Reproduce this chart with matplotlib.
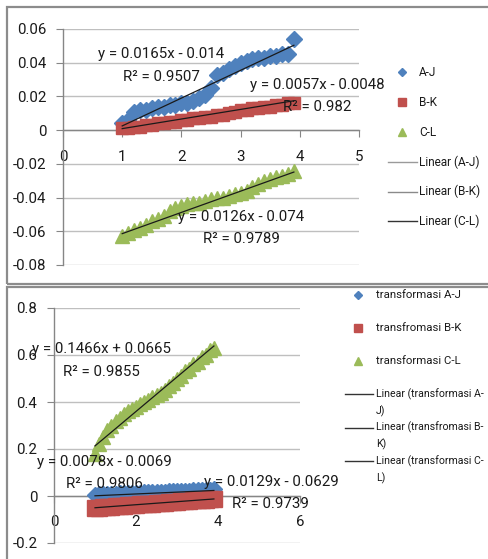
import matplotlib
matplotlib.use("Agg")
import matplotlib.pyplot as plt
from matplotlib.lines import Line2D
from matplotlib.patches import Rectangle

plt.rcParams["font.family"] = ["Roboto", "DejaVu Sans"]
plt.rcParams["font.size"] = 10.8

# ---- data ----
x_vals = [1.0, 1.1, 1.2, 1.3, 1.4, 1.5, 1.6, 1.7, 1.8, 1.9,
          2.0, 2.1, 2.2, 2.3, 2.4, 2.5, 2.6, 2.7, 2.8, 2.9,
          3.0, 3.1, 3.2, 3.3, 3.4, 3.5, 3.6, 3.7, 3.8, 3.9]

aj = [0.004, 0.006, 0.011, 0.012, 0.012, 0.013, 0.014, 0.014, 0.015, 0.015,
      0.016, 0.016, 0.017, 0.019, 0.021, 0.025, 0.033, 0.034, 0.036, 0.038,
      0.040, 0.041, 0.042, 0.043, 0.043, 0.044, 0.044, 0.045, 0.045, 0.054]
bk = [0.001, 0.001, 0.002, 0.002, 0.003, 0.003, 0.004, 0.004, 0.005, 0.005,
      0.006, 0.006, 0.007, 0.007, 0.008, 0.008, 0.009, 0.009, 0.010, 0.011,
      0.012, 0.012, 0.013, 0.013, 0.014, 0.014, 0.015, 0.015, 0.016, 0.016]
cl = [-0.063, -0.061, -0.059, -0.058, -0.056, -0.054, -0.053, -0.051, -0.048, -0.046,
      -0.045, -0.044, -0.043, -0.043, -0.042, -0.041, -0.040, -0.040, -0.039, -0.038,
      -0.037, -0.036, -0.034, -0.032, -0.030, -0.029, -0.028, -0.027, -0.026, -0.024]

t_aj = [0.006, 0.007, 0.008, 0.009, 0.009, 0.010, 0.011, 0.012, 0.012, 0.013,
        0.014, 0.014, 0.015, 0.016, 0.016, 0.017, 0.018, 0.019, 0.020, 0.020,
        0.021, 0.022, 0.023, 0.023, 0.024, 0.025, 0.026, 0.026, 0.027, 0.030]
t_bk = [-0.050, -0.049, -0.047, -0.046, -0.045, -0.043, -0.042, -0.041, -0.040, -0.038,
        -0.037, -0.036, -0.034, -0.033, -0.032, -0.031, -0.029, -0.028, -0.027, -0.025,
        -0.024, -0.023, -0.021, -0.020, -0.019, -0.018, -0.016, -0.015, -0.014, -0.012]
t_cl = [0.18, 0.22, 0.25, 0.28, 0.30, 0.32, 0.33, 0.35, 0.36, 0.37,
        0.38, 0.39, 0.40, 0.41, 0.42, 0.43, 0.44, 0.45, 0.47, 0.48,
        0.50, 0.51, 0.53, 0.54, 0.56, 0.57, 0.59, 0.60, 0.62, 0.63]

# trendline coefficients (slope, intercept, R²)
fit_top = {"A-J": (0.0165, -0.014, 0.9507),
           "B-K": (0.0057, -0.0048, 0.982),
           "C-L": (0.0126, -0.074, 0.9789)}
fit_bot = {"transformasi A-J": (0.0078, -0.0069, 0.9806),
           "transfromasi B-K": (0.0129, -0.0629, 0.9739),
           "transformasi C-L": (0.1466, 0.0665, 0.9855)}

top_yticks = [0.06, 0.04, 0.02, 0, -0.02, -0.04, -0.06, -0.08]
top_xticks = [0, 1, 2, 3, 4, 5]
bot_yticks = [0.8, 0.6, 0.4, 0.2, 0, -0.2]
bot_xticks = [0, 2, 4, 6]

BLUE, RED, GREEN = "#4F81BD", "#C0504D", "#9BBB59"
GRID = "#BFBFBF"
AXIS = "#868686"
TXT = "#1a1a1a"

W, H = 488, 559
fig = plt.figure(figsize=(W / 100, H / 100), dpi=100)


def fx(px):
    return px / W


def fy(py):
    return 1 - py / H


# panel frames
fig.add_artist(Rectangle((fx(7), fy(284)), fx(520) - fx(7), fy(7) - fy(284),
                         transform=fig.transFigure, fill=False, ec="#8C8C8C", lw=1.6))
fig.add_artist(Rectangle((fx(7), fy(600)), fx(520) - fx(7), fy(287) - fy(600),
                         transform=fig.transFigure, fill=False, ec="#8C8C8C", lw=1.6))


def style_axes(ax, xticks, yticks, xlim, ylim, xlabels, ylabels):
    ax.set_xlim(*xlim)
    ax.set_ylim(*ylim)
    ax.set_yticks(yticks)
    ax.set_yticklabels(ylabels)
    ax.set_xticks(xticks)
    ax.set_xticklabels(xlabels)
    for s in ("top", "right"):
        ax.spines[s].set_visible(False)
    ax.spines["left"].set_position(("data", 0))
    ax.spines["bottom"].set_position(("data", 0))
    for s in ("left", "bottom"):
        ax.spines[s].set_color(AXIS)
        ax.spines[s].set_linewidth(1.0)
    ax.tick_params(axis="y", direction="out", length=5, color=AXIS, pad=7, labelcolor=TXT)
    ax.tick_params(axis="x", direction="out", length=5, color=AXIS, pad=9, labelcolor=TXT)
    ax.grid(axis="y", color=GRID, lw=1.0)
    ax.set_axisbelow(True)
    ax.patch.set_alpha(0)


def fmt(v):
    return "0" if v == 0 else f"{v:g}"


x_line = [x_vals[0], x_vals[-1]]

# ---------- top chart ----------
ax1 = fig.add_axes([fx(63), fy(265), fx(359) - fx(63), fy(29) - fy(265)])
style_axes(ax1, top_xticks, top_yticks, (0, 5), (-0.08, 0.06),
           [fmt(v) for v in top_xticks], [fmt(v) for v in top_yticks])

ax1.plot(x_vals, aj, ls="none", marker="D", ms=8.5, color=BLUE, mec=BLUE, zorder=3)
ax1.plot(x_vals, bk, ls="none", marker="s", ms=8, color=RED, mec=RED, zorder=3)
ax1.plot(x_vals, cl, ls="none", marker="^", ms=10, color=GREEN, mec=GREEN, zorder=3)
for name, (m, b, r2) in fit_top.items():
    ax1.plot(x_line, [m * v + b for v in x_line], color="#1a1a1a", lw=0.9, zorder=4)

top_labels = {"A-J": (1.66, 0.0452, 0.0315),
              "B-K": (4.29, 0.0268, 0.0137),
              "C-L": (3.01, -0.0515, -0.0646)}
for name, (lx, ly1, ly2) in top_labels.items():
    m, b, r2 = fit_top[name]
    sign = "-" if b < 0 else "+"
    ax1.text(lx, ly1, f"y = {m:g}x {sign} {abs(b):g}", ha="center", va="center",
             color=TXT, zorder=5)
    ax1.text(lx, ly2, f"R² = {r2:g}", ha="center", va="center", color=TXT, zorder=5)

# ---------- bottom chart ----------
ax2 = fig.add_axes([fx(54), fy(543), fx(300) - fx(54), fy(308) - fy(543)])
style_axes(ax2, bot_xticks, bot_yticks, (0, 6), (-0.2, 0.8),
           [fmt(v) for v in bot_xticks], [fmt(v) for v in bot_yticks])

ax2.plot(x_vals, t_aj, ls="none", marker="D", ms=8, color=BLUE, mec=BLUE, zorder=3)
ax2.plot(x_vals, t_bk, ls="none", marker="s", ms=12, color=RED, mec=RED, zorder=3)
ax2.plot(x_vals, t_cl, ls="none", marker="^", ms=10.5, color=GREEN, mec=GREEN, zorder=3)
for name, (m, b, r2) in fit_bot.items():
    ax2.plot(x_line, [m * v + b for v in x_line], color="#1a1a1a", lw=0.9, zorder=4)

bot_labels = {"transformasi C-L": (1.15, 0.626, 0.528),
              "transformasi A-J": (1.22, 0.145, 0.051),
              "transfromasi B-K": (5.29, 0.060, -0.034)}
for name, (lx, ly1, ly2) in bot_labels.items():
    m, b, r2 = fit_bot[name]
    sign = "-" if b < 0 else "+"
    ax2.text(lx, ly1, f"y = {m:g}x {sign} {abs(b):g}", ha="center", va="center",
             color=TXT, zorder=5)
    ax2.text(lx, ly2, f"R² = {r2:g}", ha="center", va="center", color=TXT, zorder=5)


# ---------- legends (drawn in figure pixels) ----------
def legend_marker(px, py, marker, color, ms):
    fig.add_artist(Line2D([fx(px)], [fy(py)], transform=fig.transFigure, ls="none",
                          marker=marker, ms=ms, color=color, mec=color))


def legend_line(px0, px1, py, color):
    fig.add_artist(Line2D([fx(px0), fx(px1)], [fy(py), fy(py)], transform=fig.transFigure,
                          color=color, lw=1.0))


def legend_text(px, py, s, size):
    fig.text(fx(px), fy(py), s, ha="left", va="center", fontsize=size, color=TXT)


top_series = list(fit_top.keys())
legend_marks = [("D", BLUE, 4.5), ("s", RED, 5.5), ("^", GREEN, 6)]
for i, (name, (mk, c, ms)) in enumerate(zip(top_series, legend_marks)):
    py = 72 + i * 30
    legend_marker(402, py, mk, c, ms)
    legend_text(419, py, name, 8.5)
for i, (name, c) in enumerate(zip(top_series, ["#9a9a9a", "#8a8a8a", "#333333"])):
    py = 162 + i * 29.5
    legend_line(388, 417, py, c)
    legend_text(419, py, f"Linear ({name})", 8.5)

bot_series = list(fit_bot.keys())
for i, (name, (mk, c, ms)) in enumerate(zip(bot_series, legend_marks)):
    py = 295 + i * 33
    legend_marker(358, py, mk, c, ms)
    legend_text(376, py, name, 8.2)
for i, name in enumerate(bot_series):
    py = 394 + i * 33.5
    legend_line(345, 373, py, "#333333")
    legend_text(376, py, f"Linear ({name[:-1]}", 7.6)
    legend_text(376, py + 17, f"{name[-1]})", 7.6)

fig.savefig("out.png", dpi=100)
